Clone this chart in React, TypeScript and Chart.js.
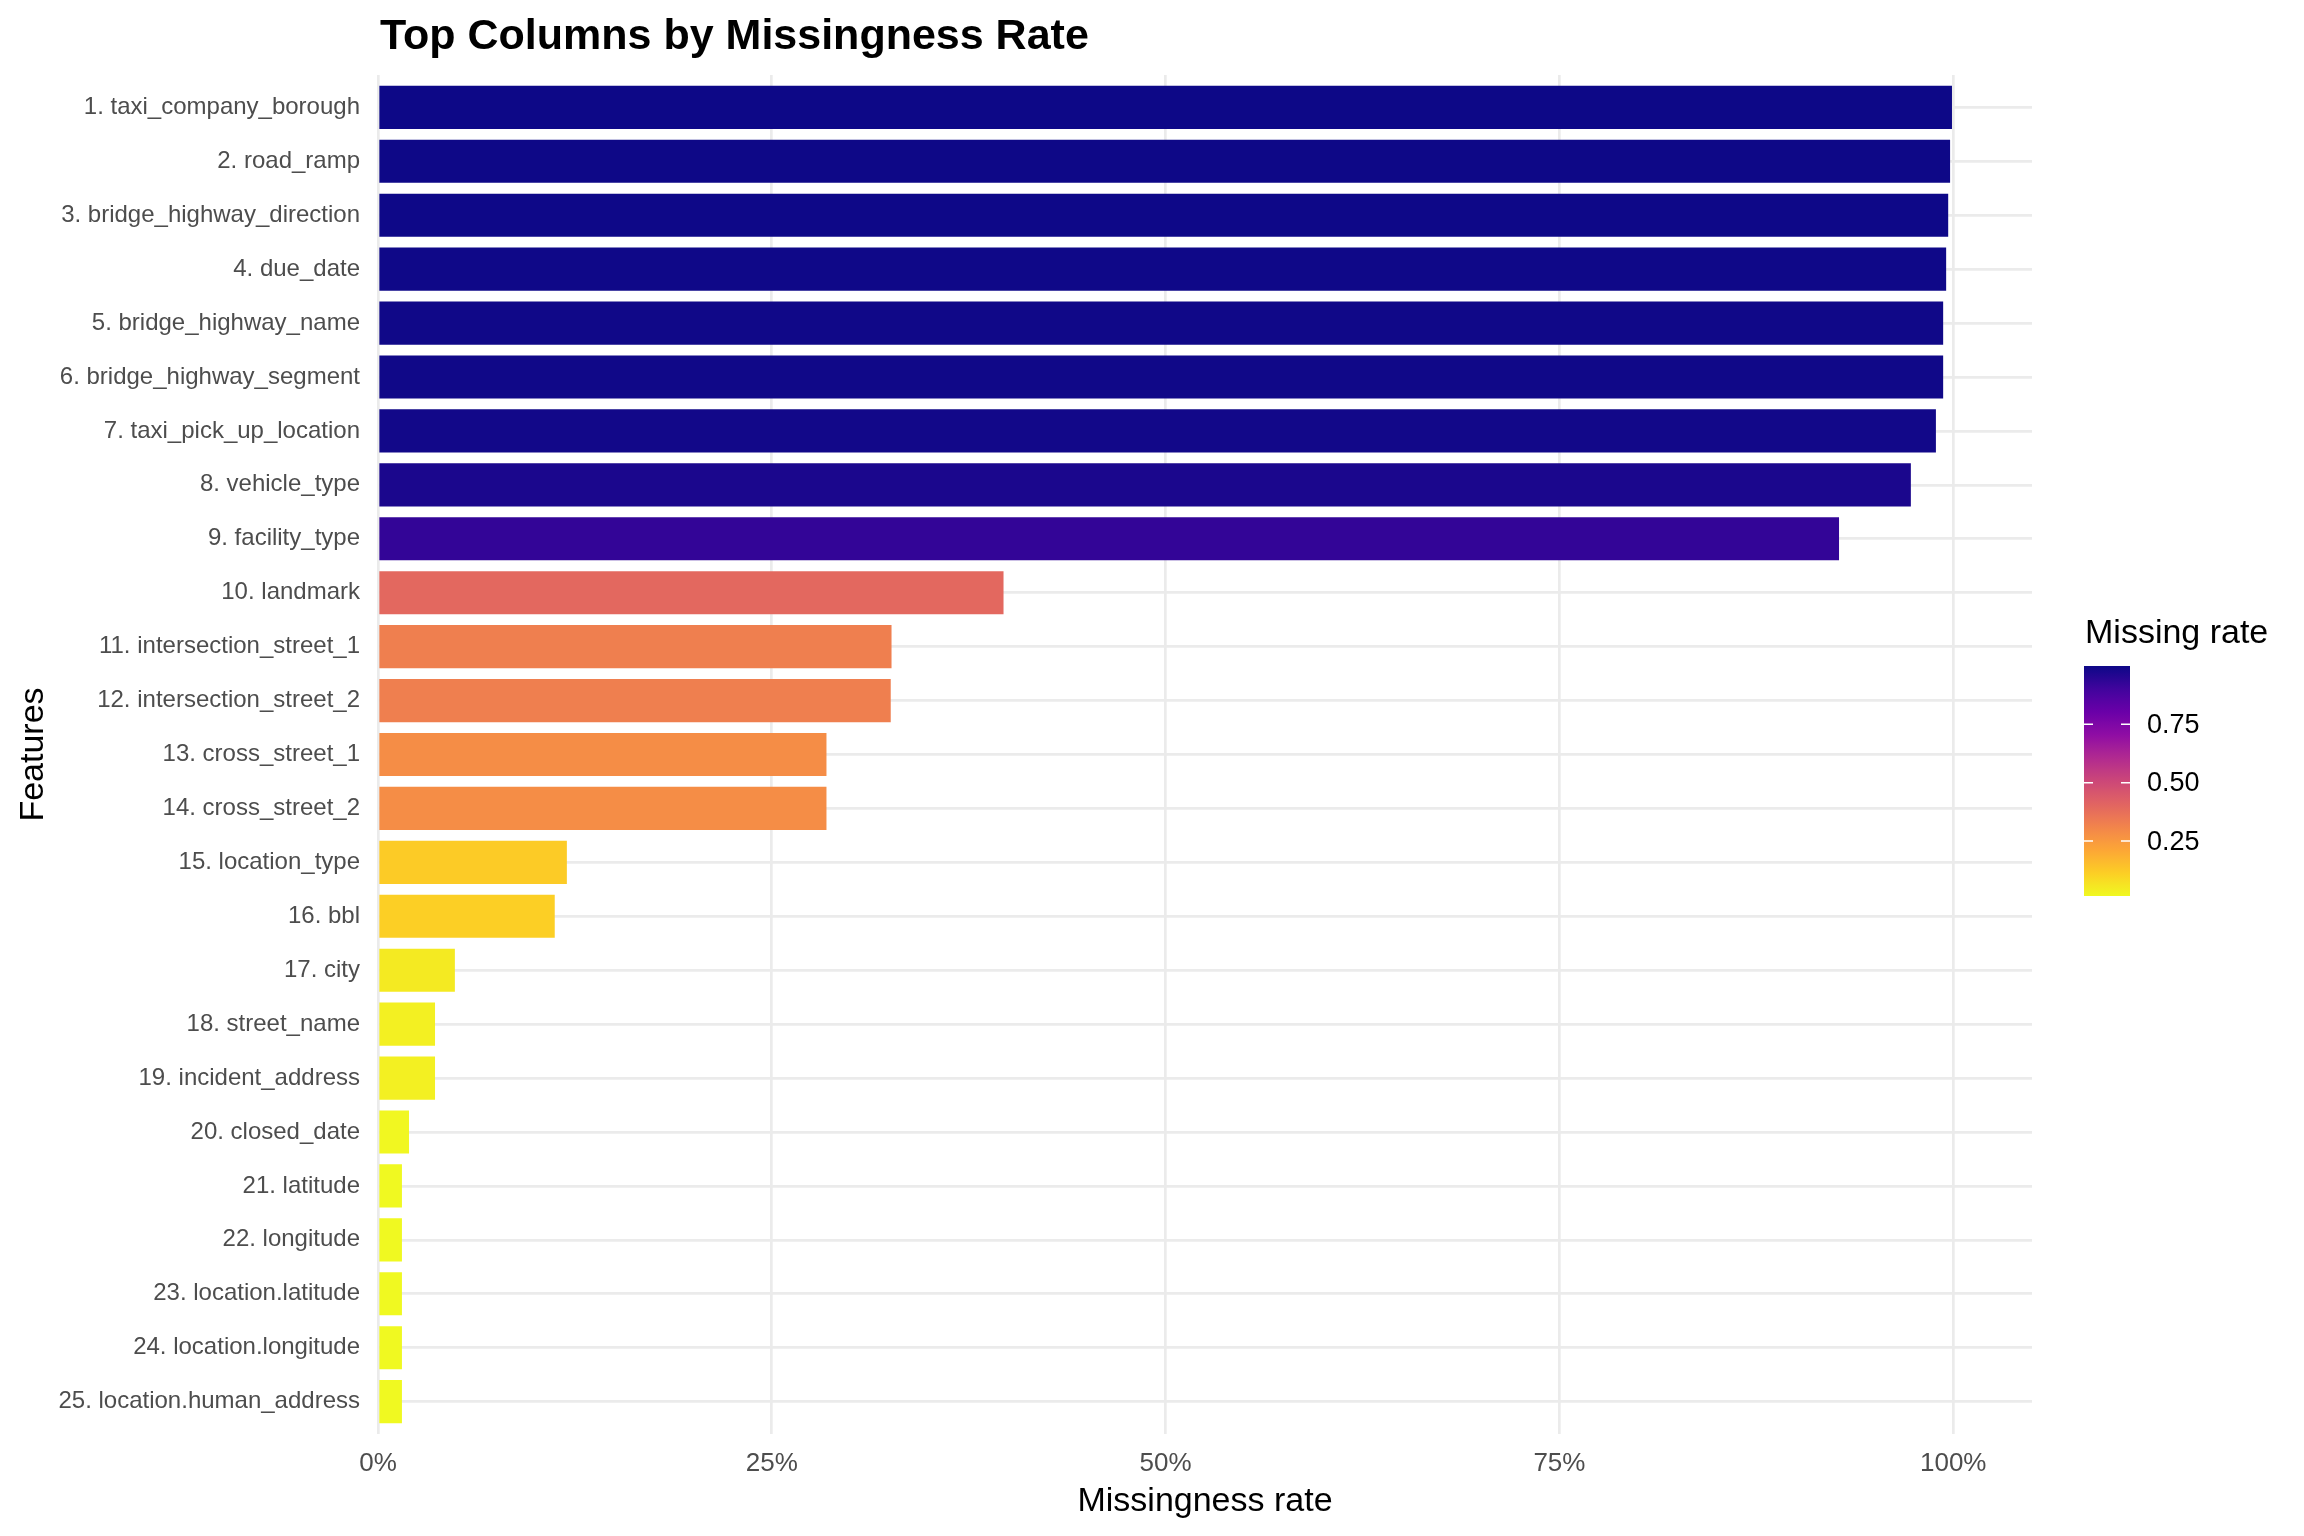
import { useEffect, useRef } from "react";
import { Chart, registerables } from "chart.js";

Chart.register(...registerables);

const features = [
  "1. taxi_company_borough",
  "2. road_ramp",
  "3. bridge_highway_direction",
  "4. due_date",
  "5. bridge_highway_name",
  "6. bridge_highway_segment",
  "7. taxi_pick_up_location",
  "8. vehicle_type",
  "9. facility_type",
  "10. landmark",
  "11. intersection_street_1",
  "12. intersection_street_2",
  "13. cross_street_1",
  "14. cross_street_2",
  "15. location_type",
  "16. bbl",
  "17. city",
  "18. street_name",
  "19. incident_address",
  "20. closed_date",
  "21. latitude",
  "22. longitude",
  "23. location.latitude",
  "24. location.longitude",
  "25. location.human_address",
];

const missingRate = [
  0.9992, 0.998, 0.9968, 0.9955, 0.9936, 0.9936, 0.989, 0.9731, 0.9275,
  0.3971, 0.326, 0.3255, 0.2847, 0.2847, 0.1199, 0.1122, 0.0488, 0.0362,
  0.0362, 0.0197, 0.0152, 0.0152, 0.0152, 0.0152, 0.0152,
];

const xTickValues = [0, 0.25, 0.5, 0.75, 1];
const xTickLabels = ["0%", "25%", "50%", "75%", "100%"];
const legendTickValues = [0.25, 0.5, 0.75];
const legendTickLabels = ["0.25", "0.50", "0.75"];

const TITLE = "Top Columns by Missingness Rate";
const X_TITLE = "Missingness rate";
const Y_TITLE = "Features";
const LEGEND_TITLE = "Missing rate";

const FONT = "'Liberation Sans', Arial, sans-serif";
const PLASMA = [
  "#0d0887", "#41049d", "#6a00a8", "#8f0da4", "#b12a90", "#cc4778",
  "#e16462", "#f2844b", "#fca636", "#fcce25", "#f0f921",
];

function hexToRgb(h: string) {
  const n = parseInt(h.slice(1), 16);
  return [(n >> 16) & 255, (n >> 8) & 255, n & 255];
}

function plasma(t: number) {
  const c = Math.max(0, Math.min(1, t)) * (PLASMA.length - 1);
  const i = Math.min(PLASMA.length - 2, Math.floor(c));
  const f = c - i;
  const a = hexToRgb(PLASMA[i]);
  const b = hexToRgb(PLASMA[i + 1]);
  const r = a.map((v, k) => Math.round(v + (b[k] - v) * f));
  return `rgb(${r[0]},${r[1]},${r[2]})`;
}

const vMax = Math.max(...missingRate);
const vMin = Math.min(...missingRate);
const colorFor = (v: number) => plasma((vMax - v) / (vMax - vMin));

const LEG = { x: 2084, y: 666, w: 46, h: 230 };

const decorPlugin = {
  id: "decor",
  afterDraw(chart: any) {
    const ctx = chart.ctx as CanvasRenderingContext2D;
    const area = chart.chartArea;
    ctx.save();
    // Title
    ctx.fillStyle = "#000";
    ctx.font = `bold 43px ${FONT}`;
    ctx.textAlign = "left";
    ctx.textBaseline = "alphabetic";
    ctx.fillText(TITLE, 380, 49);
    // X title
    ctx.font = `34px ${FONT}`;
    ctx.textAlign = "center";
    ctx.fillText(X_TITLE, (area.left + area.right) / 2, 1511);
    // Y title
    ctx.save();
    ctx.translate(43, (area.top + area.bottom) / 2);
    ctx.rotate(-Math.PI / 2);
    ctx.fillText(Y_TITLE, 0, 0);
    ctx.restore();
    // Legend title
    ctx.textAlign = "left";
    ctx.font = `34px ${FONT}`;
    ctx.fillText(LEGEND_TITLE, 2085, 643);
    // Colorbar
    const g = ctx.createLinearGradient(0, LEG.y, 0, LEG.y + LEG.h);
    for (let k = 0; k <= 40; k++) g.addColorStop(k / 40, plasma(k / 40));
    ctx.fillStyle = g;
    ctx.fillRect(LEG.x, LEG.y, LEG.w, LEG.h);
    ctx.strokeStyle = "#fff";
    ctx.lineWidth = 1.5;
    ctx.font = `27px ${FONT}`;
    ctx.textBaseline = "middle";
    legendTickValues.forEach((v, i) => {
      const y = LEG.y + ((vMax - v) / (vMax - vMin)) * LEG.h;
      ctx.beginPath();
      ctx.moveTo(LEG.x, y);
      ctx.lineTo(LEG.x + 9, y);
      ctx.moveTo(LEG.x + LEG.w - 9, y);
      ctx.lineTo(LEG.x + LEG.w, y);
      ctx.stroke();
      ctx.fillStyle = "#000";
      ctx.fillText(legendTickLabels[i], 2147, y + 1);
    });
    ctx.restore();
  },
};

export default function App() {
  const ref = useRef<HTMLCanvasElement | null>(null);
  useEffect(() => {
    if (!ref.current) return;
    const chart = new Chart(ref.current, {
      type: "bar",
      data: {
        datasets: [
          {
            data: missingRate.map((v, i) => ({ x: v, y: i })),
            backgroundColor: missingRate.map(colorFor),
            borderWidth: 0,
            barPercentage: 0.8,
            categoryPercentage: 1,
          },
        ],
      },
      options: {
        indexAxis: "y",
        responsive: false,
        animation: false,
        devicePixelRatio: 1,
        layout: { padding: { left: 0, right: 272, top: 75, bottom: 0 } },
        plugins: {
          legend: { display: false },
          title: { display: false },
          tooltip: { enabled: false },
        },
        scales: {
          x: {
            type: "linear",
            min: 0,
            max: 1.05,
            offset: false,
            afterBuildTicks: (s: any) => {
              s.ticks = xTickValues.map((v) => ({ value: v }));
            },
            afterFit: (s: any) => {
              s.height = 102;
            },
            grid: { color: "#EBEBEB", lineWidth: 2.7, drawTicks: false, offset: false },
            border: { display: false },
            ticks: {
              padding: 14,
              color: "#4D4D4D",
              font: { family: FONT, size: 26 },
              maxRotation: 0,
              callback: (v: any) => {
                const i = xTickValues.indexOf(Number(v));
                return i >= 0 ? xTickLabels[i] : "";
              },
            },
          },
          y: {
            type: "linear",
            reverse: true,
            offset: false,
            min: -0.6,
            max: features.length - 0.4,
            afterBuildTicks: (s: any) => {
              s.ticks = features.map((_, i) => ({ value: i }));
            },
            afterFit: (s: any) => {
              s.width = 378;
            },
            grid: { color: "#EBEBEB", lineWidth: 2.7, drawTicks: false, offset: false },
            border: { display: false },
            ticks: {
              padding: 18,
              color: "#4D4D4D",
              font: { family: FONT, size: 24 },
              autoSkip: false,
              callback: (v: any) => features[Number(v)] ?? "",
            },
          },
        },
      },
      plugins: [decorPlugin],
    } as any);
    return () => chart.destroy();
  }, []);
  return (
    <div style={{ position: "absolute", left: 0, top: 0, width: 2304, height: 1536, background: "#fff" }}>
      <canvas ref={ref} width={2304} height={1536} style={{ width: 2304, height: 1536 }} />
    </div>
  );
}
